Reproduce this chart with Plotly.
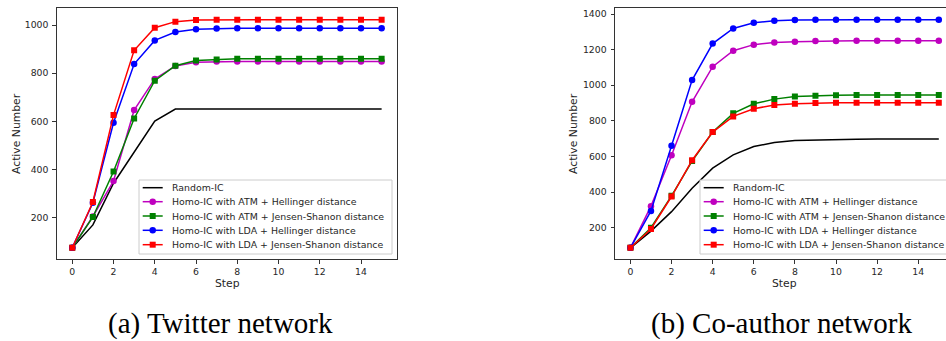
import plotly.graph_objects as go

W, H = 946, 341

steps = list(range(16))

series_names = [
    "Random-IC",
    "Homo-IC with ATM + Hellinger distance",
    "Homo-IC with ATM + Jensen-Shanon distance",
    "Homo-IC with LDA + Hellinger distance",
    "Homo-IC with LDA + Jensen-Shanon distance",
]
series_colors = ["#000000", "#BF00BF", "#008000", "#0000FF", "#FF0000"]
series_symbols = [None, "circle", "square", "circle", "square"]

# (a) Twitter network
twitter_random = [75, 170, 343, 470, 601, 651, 651, 651, 651, 651, 651, 651, 651, 651, 651, 651]
twitter_atm_hellinger = [75, 205, 352, 647, 776, 830, 845, 848, 849, 849, 849, 849, 849, 849, 849, 849]
twitter_atm_js = [75, 203, 392, 612, 769, 831, 853, 857, 860, 860, 860, 860, 860, 860, 860, 860]
twitter_lda_hellinger = [75, 262, 594, 838, 936, 971, 982, 986, 987, 987, 987, 987, 987, 987, 987, 987]
twitter_lda_js = [75, 265, 626, 895, 989, 1014, 1021, 1022, 1022, 1022, 1022, 1022, 1022, 1022, 1022, 1022]

# (b) Co-author network
coauthor_random = [87, 181, 290, 421, 534, 609, 656, 678, 689, 693, 696, 697, 698, 698, 698, 698]
coauthor_atm_hellinger = [87, 321, 607, 907, 1104, 1194, 1228, 1240, 1244, 1248, 1249, 1250, 1250, 1250, 1250, 1250]
coauthor_atm_js = [87, 200, 379, 574, 737, 842, 896, 922, 936, 941, 944, 945, 945, 945, 945, 945]
coauthor_lda_hellinger = [87, 294, 660, 1029, 1234, 1319, 1351, 1362, 1366, 1368, 1368, 1368, 1368, 1368, 1368, 1368]
coauthor_lda_js = [87, 193, 375, 579, 737, 825, 868, 889, 896, 900, 902, 902, 902, 902, 902, 902]

twitter_series = [twitter_random, twitter_atm_hellinger, twitter_atm_js, twitter_lda_hellinger, twitter_lda_js]
coauthor_series = [coauthor_random, coauthor_atm_hellinger, coauthor_atm_js, coauthor_lda_hellinger, coauthor_lda_js]

captions = ["(a) Twitter network", "(b) Co-author network"]

TEXT = "#262626"
SANS = "DejaVu Sans"


def px_x(px):
    return px / W


def px_y(py):
    return 1 - py / H


fig = go.Figure()


def add_panel(series, xa, ya):
    for name, color, sym, vals in zip(series_names, series_colors, series_symbols, series):
        fig.add_trace(go.Scatter(
            x=steps, y=vals, name=name, xaxis=xa, yaxis=ya,
            mode="lines" if sym is None else "lines+markers",
            line=dict(color=color, width=1.5),
            marker=dict(symbol=sym or "circle", size=6.5 if sym == "circle" else 6, color=color,
                        line=dict(width=0)),
            showlegend=False, hoverinfo="skip",
        ))


add_panel(twitter_series, "x", "y")
add_panel(coauthor_series, "x2", "y2")

axis_common = dict(
    showgrid=False, zeroline=False, showline=True, linecolor="#333333", linewidth=1,
    ticks="outside", ticklen=3.5, tickwidth=0.8, tickcolor="#333333",
    tickfont=dict(family=SANS, size=9.3, color=TEXT), automargin=False,
)

fig.update_layout(
    width=W, height=H,
    margin=dict(l=0, r=0, t=0, b=0),
    paper_bgcolor="white", plot_bgcolor="white",
    showlegend=False,
    xaxis=dict(axis_common, domain=[px_x(56.8), px_x(397.1)], range=[-0.75, 15.75],
               dtick=2, tick0=0, mirror=True, anchor="y"),
    yaxis=dict(axis_common, domain=[px_y(259.2), px_y(8.3)], range=[27.6, 1069.4],
               dtick=200, tick0=0, mirror=True, anchor="x", ticklabelstandoff=2),
    xaxis2=dict(axis_common, domain=[px_x(615), 1.0], range=[-0.75, 15.35],
                dtick=2, tick0=0, mirror=True, anchor="y2"),
    yaxis2=dict(axis_common, domain=[px_y(259.2), px_y(8.3)], range=[23, 1432],
                dtick=200, tick0=0, mirror=False, anchor="x2", ticklabelstandoff=2),
)

shapes = []
annotations = []

# axis titles
for cx, ylab_x in [(227, 16), (784, 573)]:
    annotations.append(dict(text="Step", x=px_x(cx), y=px_y(283), xref="paper", yref="paper",
                            showarrow=False, xanchor="center", yanchor="middle",
                            font=dict(family=SANS, size=10.8, color=TEXT)))
    annotations.append(dict(text="Active Number", x=px_x(ylab_x), y=px_y(134), xref="paper", yref="paper",
                            showarrow=False, xanchor="center", yanchor="middle", textangle=-90,
                            font=dict(family=SANS, size=10.8, color=TEXT)))

# panel captions
for cx, cap in [(220, captions[0]), (781.5, captions[1])]:
    annotations.append(dict(text=cap, x=px_x(cx), y=px_y(323), xref="paper", yref="paper",
                            showarrow=False, xanchor="center", yanchor="middle",
                            font=dict(family="Liberation Serif", size=29, color="#000000")))

# legend boxes drawn inside each panel
row_y = [187.7, 201.7, 216.0, 230.3, 244.7]
for box_left, box_right in [(139, 392), (700, 970)]:
    shapes.append(dict(type="rect", xref="paper", yref="paper",
                       x0=px_x(box_left), x1=px_x(box_right), y0=px_y(254), y1=px_y(180),
                       fillcolor="rgba(255,255,255,0.85)", line=dict(color="#cccccc", width=1),
                       layer="above"))
    lx0 = box_left + 3.7
    lx1 = lx0 + 20
    for name, color, sym, ry in zip(series_names, series_colors, series_symbols, row_y):
        shapes.append(dict(type="line", xref="paper", yref="paper",
                           x0=px_x(lx0), x1=px_x(lx1), y0=px_y(ry), y1=px_y(ry),
                           line=dict(color=color, width=1.5), layer="above"))
        if sym is not None:
            half = 3.25 if sym == "circle" else 3
            shapes.append(dict(type="circle" if sym == "circle" else "rect",
                               xref="paper", yref="paper",
                               xsizemode="pixel", ysizemode="pixel",
                               xanchor=px_x((lx0 + lx1) / 2), yanchor=px_y(ry),
                               x0=-half, x1=half, y0=-half, y1=half,
                               fillcolor=color, line=dict(width=0), layer="above"))
        annotations.append(dict(text=name, x=px_x(lx1 + 7), y=px_y(ry), xref="paper", yref="paper",
                                showarrow=False, xanchor="left", yanchor="middle",
                                font=dict(family=SANS, size=9.4, color=TEXT)))

fig.update_layout(shapes=shapes, annotations=annotations)

fig.write_html("out.html")
